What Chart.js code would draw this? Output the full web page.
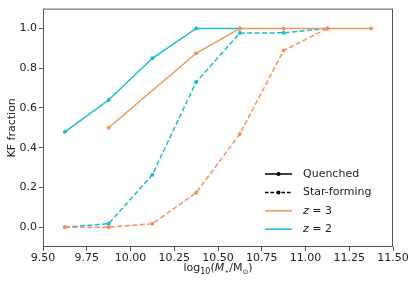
<!DOCTYPE html>
<html lang="en">
<head>
    <meta charset="UTF-8">
    <title>KF fraction vs stellar mass</title>
    <script src="https://cdn.jsdelivr.net/npm/chart.js"></script>
    <style>
        body { margin: 0; padding: 0; background: #ffffff; }
        #wrap { width: 416px; height: 283px; }
    </style>
</head>
<body>
    <div id="wrap"><canvas id="kfChart" width="416" height="283"></canvas></div>

    <script>
        // mass bin centres, log10(M*/Msun)
        const massBins = [9.625, 9.875, 10.125, 10.375, 10.625, 10.875, 11.125, 11.375];

        // KF fractions (null = no point)
        const z3Quenched = [null, 0.50, null, 0.875, 1.0, 1.0, 1.0, 1.0];
        const z3StarForming = [0.0, 0.0, 0.017, 0.173, 0.469, 0.889, 1.0, null];
        const z2Quenched = [0.48, 0.64, 0.85, 1.0, 1.0, null, null, null];
        const z2StarForming = [0.0, 0.017, 0.264, 0.73, 0.977, 0.978, 1.0, null];

        const xTicks = [9.5, 9.75, 10.0, 10.25, 10.5, 10.75, 11.0, 11.25, 11.5];
        const yTicks = [0.0, 0.2, 0.4, 0.6, 0.8, 1.0];

        const orange = '#f79256';
        const cyan = '#17becf';
        const font = "'DejaVu Sans', sans-serif";

        const toPoints = (vals) => massBins
            .map((x, i) => ({ x: x, y: vals[i] }))
            .filter(p => p.y !== null);

        const series = (label, vals, color, dashed) => ({
            label: label,
            data: toPoints(vals),
            borderColor: color,
            backgroundColor: color,
            borderWidth: 1.5,
            borderDash: dashed ? [5, 2.5] : [],
            pointRadius: 2,
            pointBorderWidth: 0,
            pointBackgroundColor: color,
            tension: 0,
            fill: false
        });

        // frame round the plot area
        const framePlugin = {
            id: 'frame',
            afterDraw(chart) {
                const a = chart.chartArea;
                const ctx = chart.ctx;
                ctx.save();
                ctx.strokeStyle = '#555';
                ctx.lineWidth = 1;
                ctx.strokeRect(a.left + 0.5, a.top + 0.5, a.right - a.left - 1, a.bottom - a.top - 1);
                ctx.restore();
            }
        };

        // axis titles and the in-plot legend
        const textPlugin = {
            id: 'texts',
            afterDraw(chart) {
                const a = chart.chartArea;
                const ctx = chart.ctx;
                ctx.save();
                ctx.fillStyle = '#222';

                // y title
                ctx.save();
                ctx.translate(12, (a.top + a.bottom) / 2);
                ctx.rotate(-Math.PI / 2);
                ctx.font = '11px ' + font;
                ctx.textAlign = 'center';
                ctx.textBaseline = 'middle';
                ctx.fillText('KF fraction', 0, 0);
                ctx.restore();

                // x title: log10(M*/Msun)
                const parts = [
                    { t: 'log', f: '11px ' + font, dy: 0 },
                    { t: '10', f: '8px ' + font, dy: 2.5 },
                    { t: '(', f: '11px ' + font, dy: 0 },
                    { t: 'M', f: 'italic 11px ' + font, dy: 0 },
                    { t: '\u22C6', f: '8px ' + font, dy: 2.5 },
                    { t: '/M', f: '11px ' + font, dy: 0 },
                    { t: '\u2299', f: '7px ' + font, dy: 2.5 },
                    { t: ')', f: '11px ' + font, dy: 0 }
                ];
                let total = 0;
                parts.forEach(p => { ctx.font = p.f; p.w = ctx.measureText(p.t).width; total += p.w; });
                let x = (a.left + a.right) / 2 - total / 2;
                const baseY = 271;
                ctx.textAlign = 'left';
                ctx.textBaseline = 'alphabetic';
                parts.forEach(p => {
                    ctx.font = p.f;
                    ctx.fillText(p.t, x, baseY + p.dy);
                    x += p.w;
                });

                // legend
                const items = [
                    { label: 'Quenched', color: '#000', dash: [], dot: true, italic: false },
                    { label: 'Star-forming', color: '#000', dash: [3.5, 2], dot: true, italic: false },
                    { label: 'z', rest: ' = 3', color: orange, dash: [], dot: false, italic: true },
                    { label: 'z', rest: ' = 2', color: cyan, dash: [], dot: false, italic: true }
                ];
                const lx0 = 265, lx1 = 292, tx = 303;
                items.forEach((it, i) => {
                    const y = 174 + i * 18.4;
                    ctx.save();
                    ctx.strokeStyle = it.color;
                    ctx.lineWidth = 1.5;
                    ctx.setLineDash(it.dash);
                    ctx.beginPath();
                    ctx.moveTo(lx0, y);
                    ctx.lineTo(lx1, y);
                    ctx.stroke();
                    if (it.dot) {
                        ctx.fillStyle = it.color;
                        ctx.beginPath();
                        ctx.arc((lx0 + lx1) / 2, y, 2, 0, Math.PI * 2);
                        ctx.fill();
                    }
                    ctx.restore();
                    ctx.textBaseline = 'middle';
                    ctx.textAlign = 'left';
                    if (it.italic) {
                        ctx.font = 'italic 11px ' + font;
                        ctx.fillText(it.label, tx, y);
                        const w = ctx.measureText(it.label).width;
                        ctx.font = '11px ' + font;
                        ctx.fillText(it.rest, tx + w, y);
                    } else {
                        ctx.font = '11px ' + font;
                        ctx.fillText(it.label, tx, y);
                    }
                });
                ctx.restore();
            }
        };

        const chart = new Chart(document.getElementById('kfChart').getContext('2d'), {
            type: 'line',
            data: {
                datasets: [
                    series('z=3 quenched', z3Quenched, orange, false),
                    series('z=3 star-forming', z3StarForming, orange, true),
                    series('z=2 quenched', z2Quenched, cyan, false),
                    series('z=2 star-forming', z2StarForming, cyan, true)
                ]
            },
            options: {
                responsive: false,
                animation: false,
                layout: { padding: { top: 4, right: 23, left: 0, bottom: 0 } },
                plugins: {
                    legend: { display: false },
                    tooltip: { enabled: false }
                },
                scales: {
                    x: {
                        type: 'linear',
                        min: 9.5,
                        max: 11.5,
                        afterBuildTicks: (s) => { s.ticks = xTicks.map(v => ({ value: v })); },
                        afterFit: (s) => { s.height = 36; },
                        grid: { drawOnChartArea: false, drawTicks: true, tickLength: 4, color: '#555' },
                        border: { display: false },
                        ticks: {
                            color: '#222',
                            padding: 1,
                            maxRotation: 0,
                            autoSkip: false,
                            font: { family: font, size: 11 },
                            callback: (v) => Number(v).toFixed(2)
                        }
                    },
                    y: {
                        type: 'linear',
                        min: -0.1,
                        max: 1.1,
                        afterBuildTicks: (s) => { s.ticks = yTicks.map(v => ({ value: v })); },
                        afterFit: (s) => { s.width = 43; },
                        grid: { drawOnChartArea: false, drawTicks: true, tickLength: 4, color: '#555' },
                        border: { display: false },
                        ticks: {
                            color: '#222',
                            padding: 2,
                            autoSkip: false,
                            font: { family: font, size: 11 },
                            callback: (v) => Number(v).toFixed(1)
                        }
                    }
                }
            },
            plugins: [framePlugin, textPlugin]
        });
    </script>
</body>
</html>
